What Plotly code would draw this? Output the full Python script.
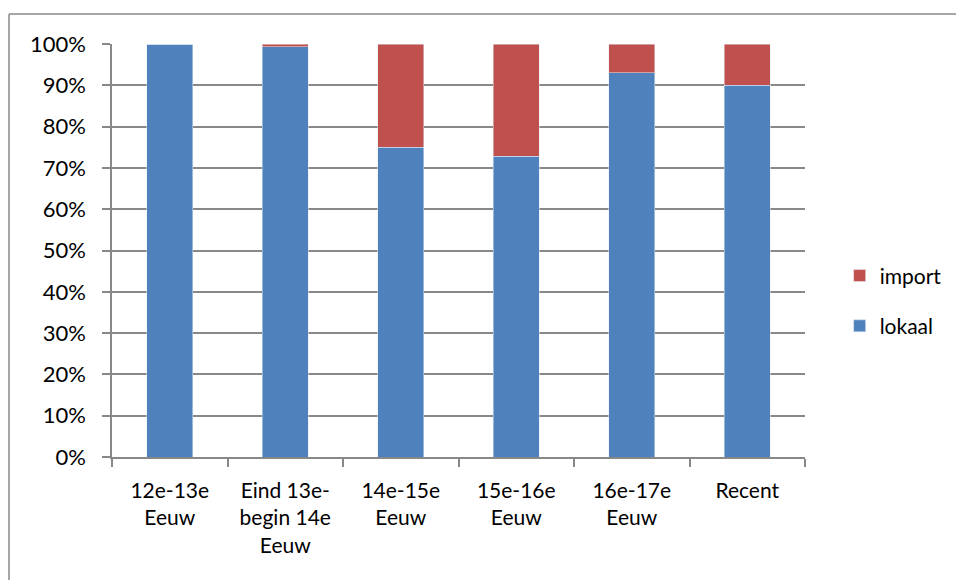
import plotly.graph_objects as go

# Share of local vs. imported material per period (percent)
categories = ["12e-13e<br>Eeuw", "Eind 13e-<br>begin 14e<br>Eeuw", "14e-15e<br>Eeuw",
              "15e-16e<br>Eeuw", "16e-17e<br>Eeuw", "Recent"]
lokaal = [100.0, 99.3, 75.0, 72.8, 93.0, 90.0]
import_ = [0.0, 0.7, 25.0, 27.2, 7.0, 10.0]
y_ticks = [0, 10, 20, 30, 40, 50, 60, 70, 80, 90, 100]
y_labels = [f"{v}%" for v in y_ticks]

BLUE = "#4F81BD"
RED = "#C0504D"
GRID = "#888888"
FAMILY = "Lato, 'Open Sans', sans-serif"
FONT = dict(family=FAMILY, size=21, color="#000000")
YFONT = dict(family=FAMILY, size=22, color="#000000")

fig = go.Figure()
fig.add_trace(go.Bar(x=categories, y=lokaal, name="lokaal", marker_color=BLUE,
                     legendgroup="lok", legendrank=2, width=0.4))
fig.add_trace(go.Bar(x=categories, y=import_, name="import", marker_color=RED,
                     legendgroup="imp", legendrank=1, width=0.4))

# chart-area frame: only its left and top edges fall inside the page
frame = dict(color=GRID, width=1.5)
fig.add_shape(type="line", xref="paper", yref="paper",
              x0=-0.1486, x1=-0.1486, y0=-0.4, y1=1.0726, line=frame, layer="below")
fig.add_shape(type="line", xref="paper", yref="paper",
              x0=-0.1486, x1=1.4, y0=1.0726, y1=1.0726, line=frame, layer="below")

fig.update_layout(
    barmode="stack",
    width=956, height=580,
    margin=dict(l=112, r=151, t=44, b=123, autoexpand=False),
    paper_bgcolor="white", plot_bgcolor="white",
    font=FONT,
    showlegend=True,
    legend=dict(x=1.05, y=0.378, xanchor="left", yanchor="middle",
                traceorder="grouped", tracegroupgap=20,
                font=FONT, itemwidth=30),
    xaxis=dict(showline=True, linecolor=GRID, linewidth=1.5,
               ticks="outside", ticklen=8, tickcolor=GRID, tickwidth=1.5,
               tickson="boundaries", showgrid=False, tickfont=FONT,
               ticklabelstandoff=14),
    yaxis=dict(range=[0, 100], tickvals=y_ticks, ticktext=y_labels,
               showline=True, linecolor=GRID, linewidth=1.5,
               ticks="outside", ticklen=8, tickcolor=GRID, tickwidth=1.5,
               showgrid=True, gridcolor=GRID, gridwidth=1.5,
               zeroline=False, tickfont=YFONT, ticklabelstandoff=12),
    bargap=0.6,
)

fig.write_html("out.html")
